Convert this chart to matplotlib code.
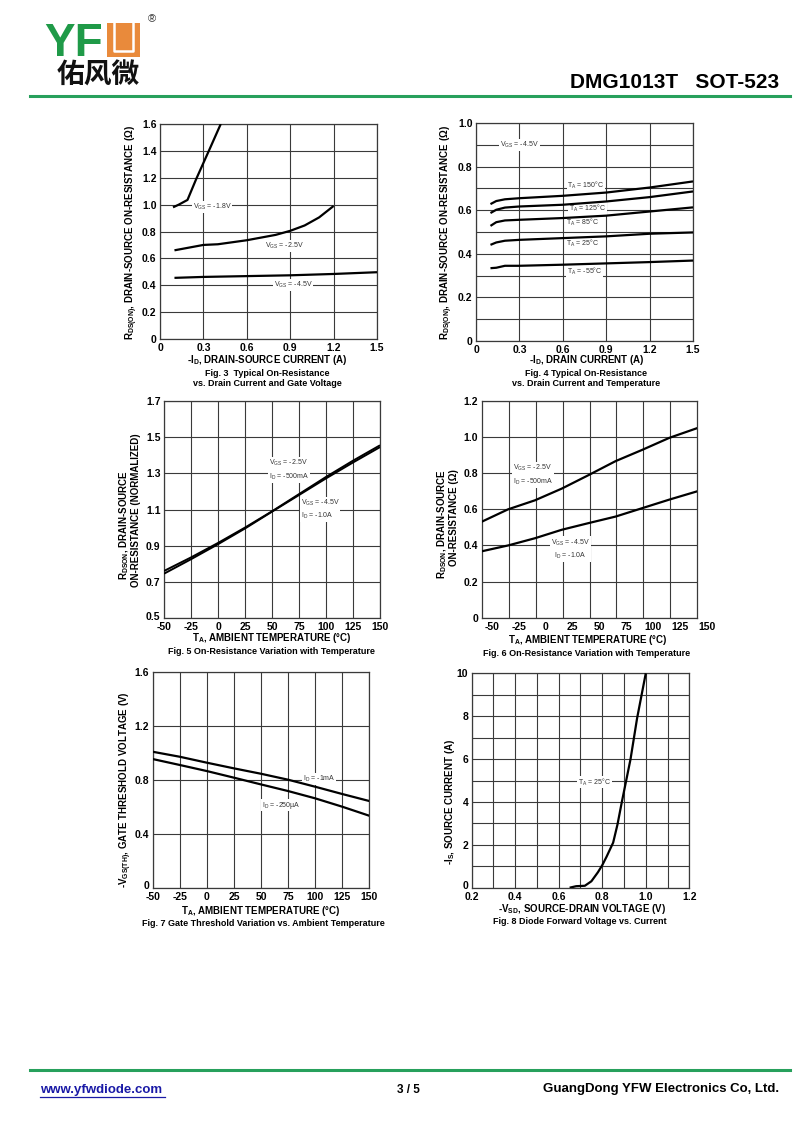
import matplotlib
matplotlib.use("Agg")
import matplotlib.pyplot as plt
from matplotlib.patches import Rectangle
from matplotlib.lines import Line2D
import matplotlib.transforms as mtransforms

plt.rcParams['font.family'] = ['Liberation Sans', 'DejaVu Sans']
plt.rcParams['mathtext.default'] = 'regular'

# ---------------- data ----------------
# Fig 3
f3_id_18 = [0.09, 0.13, 0.19, 0.25, 0.30, 0.35, 0.42]
f3_r_18 = [0.98, 1.00, 1.035, 1.19, 1.31, 1.43, 1.60]
f3_id_25 = [0.1, 0.2, 0.3, 0.4, 0.5, 0.6, 0.7, 0.8, 0.9, 0.95, 1.0, 1.1, 1.2]
f3_r_25 = [0.66, 0.68, 0.70, 0.705, 0.72, 0.735, 0.755, 0.775, 0.805, 0.825, 0.845, 0.905, 0.99]
f3_id_45 = [0.1, 0.3, 0.6, 0.9, 1.2, 1.5]
f3_r_45 = [0.455, 0.462, 0.468, 0.474, 0.484, 0.497]
f3_xticks = [0, 0.3, 0.6, 0.9, 1.2, 1.5]
f3_yticks = [0, 0.2, 0.4, 0.6, 0.8, 1.0, 1.2, 1.4, 1.6]

# Fig 4
f4_id = [0.1, 0.14, 0.2, 0.3, 0.6, 0.9, 1.2, 1.5]
f4_r_150 = [0.628, 0.642, 0.650, 0.655, 0.666, 0.681, 0.704, 0.732]
f4_r_125 = [0.587, 0.602, 0.612, 0.617, 0.625, 0.640, 0.660, 0.686]
f4_r_85 = [0.528, 0.545, 0.553, 0.556, 0.564, 0.575, 0.594, 0.613]
f4_r_25 = [0.441, 0.452, 0.460, 0.464, 0.472, 0.480, 0.492, 0.498]
f4_r_m55 = [0.334, 0.336, 0.345, 0.345, 0.350, 0.356, 0.362, 0.369]
f4_xticks = [0, 0.3, 0.6, 0.9, 1.2, 1.5]
f4_yticks = [0, 0.2, 0.4, 0.6, 0.8, 1.0]

# Fig 5
f5_t = [-50, -25, 0, 25, 50, 75, 100, 125, 150]
f5_r_25 = [0.76, 0.835, 0.915, 1.0, 1.09, 1.185, 1.28, 1.37, 1.455]
f5_r_45 = [0.745, 0.825, 0.908, 0.995, 1.088, 1.18, 1.272, 1.36, 1.445]
f5_xticks = [-50, -25, 0, 25, 50, 75, 100, 125, 150]
f5_yticks = [0.5, 0.7, 0.9, 1.1, 1.3, 1.5, 1.7]

# Fig 6
f6_t = [-60, -35, -10, 15, 40, 65, 90, 115, 141]
f6_r_25 = [0.53, 0.60, 0.65, 0.715, 0.79, 0.867, 0.93, 0.996, 1.05]
f6_r_45 = [0.367, 0.40, 0.44, 0.487, 0.524, 0.56, 0.607, 0.654, 0.70]
f6_xticks = [-50, -25, 0, 25, 50, 75, 100, 125, 150]
f6_yticks = [0, 0.2, 0.4, 0.6, 0.8, 1.0, 1.2]

# Fig 7
f7_t = [-50, -25, 0, 25, 50, 75, 100, 125, 150]
f7_v_1ma = [1.007, 0.97, 0.926, 0.884, 0.844, 0.80, 0.748, 0.694, 0.642]
f7_v_250 = [0.953, 0.909, 0.864, 0.815, 0.765, 0.716, 0.662, 0.60, 0.533]
f7_xticks = [-50, -25, 0, 25, 50, 75, 100, 125, 150]
f7_yticks = [0, 0.4, 0.8, 1.2, 1.6]

# Fig 8
f8_vsd = [0.65, 0.68, 0.72, 0.75, 0.78, 0.80, 0.82, 0.85, 0.87, 0.89, 0.91, 0.93, 0.96, 1.0]
f8_is = [0.0, 0.07, 0.09, 0.3, 0.72, 1.05, 1.45, 2.1, 2.95, 4.0, 5.0, 6.0, 7.9, 10.0]
f8_xticks = [0.2, 0.4, 0.6, 0.8, 1.0, 1.2]
f8_yticks = [0, 2, 4, 6, 8, 10]

# ---------------- layout helpers ----------------
W, H = 800, 1130
fig = plt.figure(figsize=(W / 100, H / 100), dpi=100)

GRID = '#3a3a3a'
TICK_FS = 7.5
LAB_FS = 7
CAP_FS = 6.5
ANN_FS = 5
ANN_C = '#333333'


def fx(x):
    return x / W


def fy(y):
    return 1 - y / H


def make_axes(l, t, r, b):
    ax = fig.add_axes([fx(l), fy(b), (r - l) / W, (b - t) / H])
    for s in ax.spines.values():
        s.set_color(GRID)
        s.set_linewidth(0.9)
    ax.tick_params(which='both', length=0, labelsize=TICK_FS, colors='black')
    ax.tick_params(axis='x', which='both', pad=3.0)
    ax.tick_params(axis='y', which='both', pad=2.5)
    ax.set_axisbelow(True)
    return ax


def fmt(v):
    if v == 0:
        return '0'
    if float(v).is_integer() and abs(v) >= 2:
        return '%d' % v
    return '%.1f' % v


def set_ticks(ax, xt, yt):
    ax.set_xticks(xt)
    ax.set_xticklabels([fmt(v) for v in xt], fontweight='bold', fontsize=TICK_FS)
    ax.set_yticks(yt)
    ax.set_yticklabels([fmt(v) for v in yt], fontweight='bold', fontsize=TICK_FS)


def lift_first_ylabel(ax, px=2.5):
    lab = ax.get_yticklabels()[0]
    lab.set_transform(lab.get_transform() +
                      mtransforms.ScaledTranslation(0, px / 100, fig.dpi_scale_trans))


def grid(ax, which='both', axis='both'):
    ax.grid(True, which=which, axis=axis, color=GRID, linewidth=0.8)


def ann(ax, x, y, s, ha='center', va='center'):
    ax.text(x, y, s, fontsize=ANN_FS, color=ANN_C, ha=ha, va=va, zorder=3,
            linespacing=1.5,
            bbox=dict(facecolor='white', edgecolor='none', pad=0.6))


def curve(ax, x, y, lw=1.6):
    ax.plot(x, y, color='black', linewidth=lw, zorder=4, solid_capstyle='butt')


def ftext(x, y, s, size, ha='center', va='center', **kw):
    fig.text(fx(x), fy(y), s, fontsize=size, ha=ha, va=va, fontweight='bold', **kw)


# ---------------- Fig 3 ----------------
ax3 = make_axes(160, 124, 377, 339)
ax3.set_xlim(0, 1.5)
ax3.set_ylim(0, 1.6)
set_ticks(ax3, f3_xticks, f3_yticks)
grid(ax3)
curve(ax3, f3_id_18, f3_r_18)
curve(ax3, f3_id_25, f3_r_25)
curve(ax3, f3_id_45, f3_r_45)
ann(ax3, 0.36, 0.985, 'V$_{GS}$ = -1.8V')
ann(ax3, 0.86, 0.695, 'V$_{GS}$ = -2.5V')
ann(ax3, 0.92, 0.405, 'V$_{GS}$ = -4.5V')
ftext(132, 232, 'R$_{DS(ON)}$, DRAIN-SOURCE ON-RESISTANCE (Ω)', LAB_FS, rotation=90)
ftext(267, 360, '-I$_D$, DRAIN-SOURCE CURRENT (A)', LAB_FS)
ftext(267, 373, 'Fig. 3  Typical On-Resistance', CAP_FS)
ftext(267, 384, 'vs. Drain Current and Gate Voltage', CAP_FS)

# ---------------- Fig 4 ----------------
ax4 = make_axes(476, 123, 693, 341)
ax4.set_xlim(0, 1.5)
ax4.set_ylim(0, 1.0)
set_ticks(ax4, f4_xticks, f4_yticks)
ax4.set_yticks([0.1, 0.3, 0.5, 0.7, 0.9], minor=True)
grid(ax4)
for r in (f4_r_150, f4_r_125, f4_r_85, f4_r_25, f4_r_m55):
    curve(ax4, f4_id, r)
ann(ax4, 0.30, 0.9, 'V$_{GS}$ = -4.5V')
ann(ax4, 0.76, 0.713, 'T$_A$ = 150°C')
ann(ax4, 0.77, 0.607, 'T$_A$ = 125°C')
ann(ax4, 0.74, 0.543, 'T$_A$ = 85°C')
ann(ax4, 0.74, 0.446, 'T$_A$ = 25°C')
ann(ax4, 0.75, 0.318, 'T$_A$ = -55°C')
ftext(447, 232, 'R$_{DS(ON)}$, DRAIN-SOURCE ON-RESISTANCE (Ω)', LAB_FS, rotation=90)
ftext(587, 360, '-I$_D$, DRAIN CURRENT (A)', LAB_FS)
ftext(586, 373, 'Fig. 4 Typical On-Resistance', CAP_FS)
ftext(586, 384, 'vs. Drain Current and Temperature', CAP_FS)

# ---------------- Fig 5 ----------------
ax5 = make_axes(164, 401, 380, 618)
ax5.set_xlim(-50, 150)
ax5.set_ylim(0.5, 1.7)
set_ticks(ax5, f5_xticks, f5_yticks)
grid(ax5)
curve(ax5, f5_t, f5_r_25, lw=1.4)
curve(ax5, f5_t, f5_r_45, lw=1.4)
ann(ax5, 47, 1.32, 'V$_{GS}$ = -2.5V\nI$_D$ = -500mA', ha='left')
ann(ax5, 76.5, 1.10, 'V$_{GS}$ = -4.5V\nI$_D$ = -1.0A', ha='left')
lift_first_ylabel(ax5)
ftext(124, 525, 'R$_{DSON}$, DRAIN-SOURCE', LAB_FS, rotation=90)
ftext(136, 510, 'ON-RESISTANCE (NORMALIZED)', LAB_FS, rotation=90)
ftext(272, 638, 'T$_A$, AMBIENT TEMPERATURE (°C)', LAB_FS)
ftext(271, 651, 'Fig. 5 On-Resistance Variation with Temperature', CAP_FS)

# ---------------- Fig 6 ----------------
ax6 = make_axes(481.7, 401, 697.3, 617.7)
x6lo, x6hi = -59.5, 141.0
ax6.set_xlim(x6lo, x6hi)
ax6.set_ylim(0, 1.2)
vis6 = [v for v in f6_xticks if x6lo <= v <= x6hi]
set_ticks(ax6, vis6, f6_yticks)
step6 = (x6hi - x6lo) / 8
ax6.set_xticks([x6lo + step6 * k for k in range(1, 8)], minor=True)
ax6.grid(True, which='minor', axis='x', color=GRID, linewidth=0.8)
ax6.grid(True, which='major', axis='y', color=GRID, linewidth=0.8)
ax6.grid(False, which='major', axis='x')
trans6 = mtransforms.offset_copy(ax6.get_xaxis_transform(), fig=fig, y=-3.0, units='points')
for v in f6_xticks:
    if v > x6hi:
        ax6.text(v, 0, fmt(v), transform=trans6, ha='center', va='top',
                 fontsize=TICK_FS, fontweight='bold', clip_on=False)
curve(ax6, f6_t, f6_r_25)
curve(ax6, f6_t, f6_r_45)
ann(ax6, -30.7, 0.79, 'V$_{GS}$ = -2.5V\nI$_D$ = -500mA', ha='left')
ann(ax6, 23, 0.379, 'V$_{GS}$ = -4.5V\nI$_D$ = -1.0A', ha='center')
ftext(442, 524, 'R$_{DSON}$, DRAIN-SOURCE', LAB_FS, rotation=90)
ftext(454, 518, 'ON-RESISTANCE (Ω)', LAB_FS, rotation=90)
ftext(588, 640, 'T$_A$, AMBIENT TEMPERATURE (°C)', LAB_FS)
ftext(587, 654, 'Fig. 6 On-Resistance Variation with Temperature', CAP_FS)

# ---------------- Fig 7 ----------------
ax7 = make_axes(152.7, 671.7, 369.3, 887.7)
ax7.set_xlim(-50, 150)
ax7.set_ylim(0, 1.6)
set_ticks(ax7, f7_xticks, f7_yticks)
grid(ax7)
curve(ax7, f7_t, f7_v_1ma)
curve(ax7, f7_t, f7_v_250)
ann(ax7, 88.5, 0.805, 'I$_D$ = -1mA', ha='left')
ann(ax7, 50.6, 0.612, 'I$_D$ = -250µA', ha='left')
lift_first_ylabel(ax7)
ftext(126, 790, '-V$_{GS(TH)}$, GATE THRESHOLD VOLTAGE (V)', LAB_FS, rotation=90)
ftext(261, 911, 'T$_A$, AMBIENT TEMPERATURE (°C)', LAB_FS)
ftext(263, 924, 'Fig. 7 Gate Threshold Variation vs. Ambient Temperature', CAP_FS)

# ---------------- Fig 8 ----------------
ax8 = make_axes(471.7, 673.3, 689.3, 887.7)
ax8.set_xlim(0.2, 1.2)
ax8.set_ylim(0, 10)
set_ticks(ax8, f8_xticks, f8_yticks)
ax8.set_xticks([0.3, 0.5, 0.7, 0.9, 1.1], minor=True)
ax8.set_yticks([1, 3, 5, 7, 9], minor=True)
grid(ax8)
curve(ax8, f8_vsd, f8_is)
ann(ax8, 0.765, 4.93, 'T$_A$ = 25°C')
lift_first_ylabel(ax8)
ftext(450, 802, '-I$_S$, SOURCE CURRENT (A)', LAB_FS, rotation=90)
ftext(582, 909, '-V$_{SD}$, SOURCE-DRAIN VOLTAGE (V)', LAB_FS)
ftext(580, 921, 'Fig. 8 Diode Forward Voltage vs. Current', CAP_FS)

# ---------------- header ----------------
GREEN = '#1f9a48'
ORANGE = '#e98a3b'
LINE_GREEN = '#27a05c'
fig.text(fx(44), fy(56), 'YF', fontsize=33, fontweight='bold', color=GREEN,
         ha='left', va='baseline')
fig.patches.append(Rectangle((fx(107), fy(57)), 33 / W, 34 / H, transform=fig.transFigure,
                             facecolor=ORANGE, edgecolor='none'))
fig.lines.append(Line2D([fx(114), fx(114), fx(133), fx(133)],
                        [fy(23), fy(50.5), fy(50.5), fy(23)],
                        transform=fig.transFigure, color='white', linewidth=1.8))
fig.text(fx(152), fy(19), '®', fontsize=8, ha='center', va='center', color='#333333')
fig.text(fx(98), fy(76), '佑风微', fontsize=20, fontweight='bold', ha='center', va='center',
         family=['Noto Sans CJK SC', 'DejaVu Sans'], color='#111111')
fig.text(fx(779), fy(83), 'DMG1013T   SOT-523', fontsize=15, fontweight='bold',
         ha='right', va='center')
fig.lines.append(Line2D([fx(30), fx(790)], [fy(96), fy(96)], transform=fig.transFigure,
                        color=LINE_GREEN, linewidth=2.2))

# ---------------- footer ----------------
fig.lines.append(Line2D([fx(30), fx(790)], [fy(1070), fy(1070)], transform=fig.transFigure,
                        color=LINE_GREEN, linewidth=2.2))
fig.text(fx(40), fy(1090), 'www.yfwdiode.com', fontsize=9.5, fontweight='bold',
         color='#1a1aa6', ha='left', va='center')
fig.lines.append(Line2D([fx(40), fx(165)], [fy(1097), fy(1097)], transform=fig.transFigure,
                        color='#1a1aa6', linewidth=0.9))
fig.text(fx(408), fy(1090), '3 / 5', fontsize=8.5, fontweight='bold', ha='center', va='center')
fig.text(fx(779), fy(1089), 'GuangDong YFW Electronics Co, Ltd.', fontsize=9.5,
         fontweight='bold', ha='right', va='center')

fig.savefig('out.png', dpi=100, facecolor='white')
